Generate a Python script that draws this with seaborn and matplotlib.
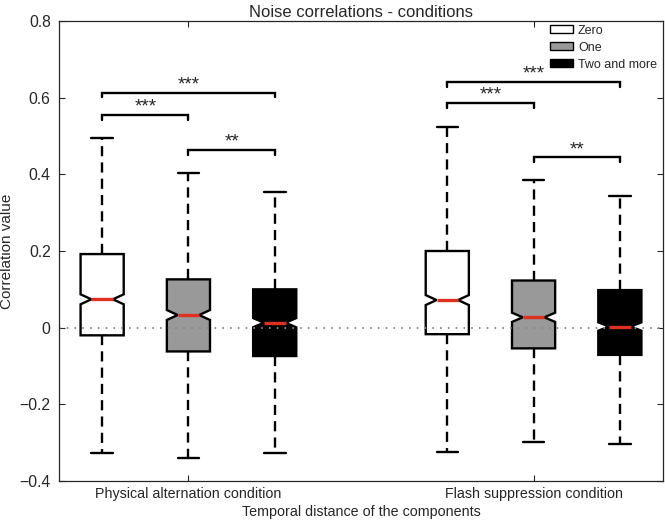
import matplotlib
matplotlib.use("Agg")
import matplotlib.pyplot as plt
from matplotlib.patches import Patch
import seaborn as sns

# ---------------- data ----------------
conditions = ["Physical alternation condition", "Flash suppression condition"]
groups = ["Zero", "One", "Two and more"]
box_colors = ["white", "#999999", "black"]

# six boxes: (condition, group) in order
box_q1 = [-0.020, -0.062, -0.074, -0.017, -0.054, -0.071]
box_med = [0.074, 0.033, 0.013, 0.072, 0.027, 0.003]
box_q3 = [0.192, 0.126, 0.100, 0.200, 0.123, 0.098]
box_whislo = [-0.328, -0.341, -0.327, -0.324, -0.297, -0.303]
box_whishi = [0.494, 0.403, 0.353, 0.524, 0.384, 0.344]
box_notch = [0.013, 0.013, 0.012, 0.013, 0.012, 0.011]

# significance brackets: (left box index, right box index, height, label)
sig_left = [0, 0, 1, 3, 3, 4]
sig_right = [1, 2, 2, 4, 5, 5]
sig_y = [0.555, 0.613, 0.463, 0.585, 0.640, 0.444]
sig_label = ["***", "***", "**", "***", "***", "**"]

yticks = [-0.4, -0.2, 0, 0.2, 0.4, 0.6, 0.8]
yticklabels = ["\u22120.4", "\u22120.2", "0", "0.2", "0.4", "0.6", "0.8"]

# ---------------- style ----------------
sns.set_style("ticks")
plt.rcParams["font.family"] = ["Liberation Sans", "DejaVu Sans"]

fig = plt.figure(figsize=(6.65, 5.27), dpi=100)
ax = fig.add_axes([59 / 665, 1 - 481 / 527, 604 / 665, 460 / 527])

positions = [1, 2, 3, 5, 6, 7]
stats = []
for i in range(6):
    stats.append(dict(
        med=box_med[i], q1=box_q1[i], q3=box_q3[i],
        whislo=box_whislo[i], whishi=box_whishi[i],
        cilo=box_med[i] - box_notch[i], cihi=box_med[i] + box_notch[i],
        fliers=[]))

dash = (0, (4.3, 2.6))
art = ax.bxp(stats, positions=positions, widths=0.5, shownotches=True,
             patch_artist=True, showfliers=False, manage_ticks=False,
             boxprops=dict(linewidth=1.7, edgecolor="black"),
             whiskerprops=dict(linewidth=1.7, color="black", linestyle=dash),
             capprops=dict(linewidth=1.7, color="black"),
             medianprops=dict(linewidth=2.4, color="#e0301e",
                              solid_capstyle="butt"))
for i, patch in enumerate(art["boxes"]):
    patch.set_facecolor(box_colors[i % 3])
    patch.set_zorder(2)
for m in art["medians"]:
    m.set_zorder(3)

# dotted zero line
ax.axhline(0, color="#888888", linestyle=(0, (0.8, 3.2)), linewidth=1.4,
           zorder=2.5)

# significance brackets
tick_h = 0.012
for l, r, y, lab in zip(sig_left, sig_right, sig_y, sig_label):
    x1, x2 = positions[l], positions[r]
    ax.plot([x1, x1, x2, x2], [y - tick_h, y, y, y - tick_h],
            color="black", linewidth=1.7, solid_joinstyle="miter", zorder=4)
    ax.text((x1 + x2) / 2, y + 0.009, lab, ha="center", va="baseline",
            fontsize=13.5, zorder=4)

# axes
ax.set_xlim(0.5, 7.5)
ax.set_ylim(-0.4, 0.8)
ax.set_xticks([2, 6])
ax.set_xticklabels(conditions, fontsize=10.3)
ax.set_yticks(yticks)
ax.set_yticklabels(yticklabels, fontsize=11.3)
ax.tick_params(direction="in", top=True, right=True, length=4, width=0.8)
ax.tick_params(axis="y", pad=6)
ax.tick_params(axis="x", pad=4)
for s in ax.spines.values():
    s.set_visible(True)
    s.set_linewidth(0.9)
ax.set_xlabel("Temporal distance of the components", fontsize=10.3,
              labelpad=3)
ax.set_ylabel("Correlation value", fontsize=11, labelpad=4)
ax.set_title("Noise correlations - conditions", fontsize=12, pad=3)

handles = [Patch(facecolor=c, edgecolor="black", linewidth=1.0)
           for c in box_colors]
ax.legend(handles, groups, loc="upper right", bbox_to_anchor=(0.99, 0.992),
          frameon=False, fontsize=9, handlelength=1.85, handleheight=0.56,
          handletextpad=0.4, labelspacing=0.4, borderpad=0.0,
          borderaxespad=0.0)

fig.savefig("out.png", dpi=100)
